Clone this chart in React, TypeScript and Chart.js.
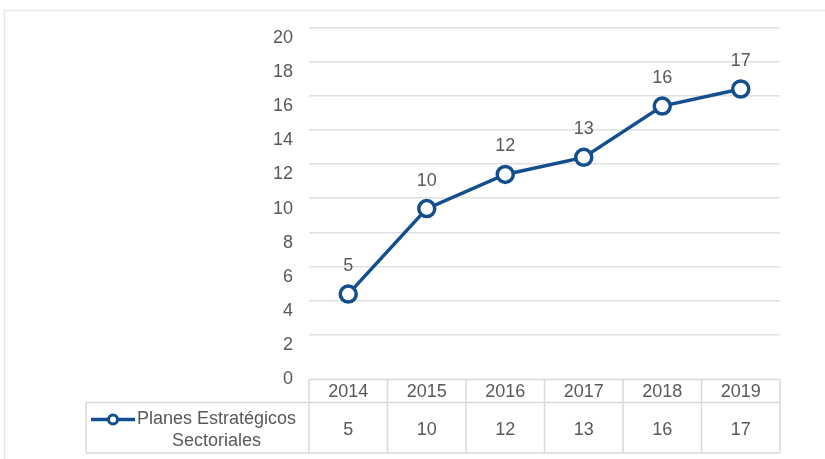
import React, { useEffect, useRef } from "react";
import { Chart, registerables } from "chart.js";

Chart.register(...registerables);

// ---- data ----
const categories = ["2014", "2015", "2016", "2017", "2018", "2019"];
const seriesLabelLines = ["Planes Estratégicos", "Sectoriales"];
const values = [5, 10, 12, 13, 16, 17];
const yMin = 0;
const yTop = 20;
const yStep = 2;

// ---- style ----
const LINE_COLOR = "#134f8f";
const TEXT_COLOR = "#595959";
const GRID_COLOR = "#e0e0e0";
const TABLE_COLOR = "#d9d9d9";
const FONT_FAMILY = "'Liberation Sans', Arial, sans-serif";
const FONT_SIZE = 18;
const GRID_SHIFT = 0.61; // gridlines sit slightly above their labels in the reference
const Y_MAX = 20.64;

const tablePlugin = {
  id: "dataTable",
  beforeDraw(chart: any) {
    const ctx = chart.ctx;
    ctx.save();
    ctx.strokeStyle = "#e6e6e6";
    ctx.lineWidth = 1.5;
    ctx.beginPath();
    ctx.moveTo(4.5, chart.height);
    ctx.lineTo(4.5, 10.5);
    ctx.lineTo(chart.width, 10.5);
    ctx.stroke();
    ctx.restore();
  },
  afterDatasetsDraw(chart: any) {
    const ctx = chart.ctx;
    const meta = chart.getDatasetMeta(0);
    ctx.save();
    ctx.fillStyle = TEXT_COLOR;
    ctx.font = `${FONT_SIZE}px ${FONT_FAMILY}`;
    ctx.textAlign = "center";
    ctx.textBaseline = "middle";
    meta.data.forEach((pt: any, i: number) => {
      ctx.fillText(String(values[i]), pt.x, pt.y - 28);
    });
    ctx.restore();
  },
  afterDraw(chart: any) {
    const ctx = chart.ctx;
    const { left, right, bottom } = chart.chartArea;
    const xs = chart.scales.x;
    const n = categories.length;
    const colW = (right - left) / n;
    const headH = 23;
    const rowH = 50.5;
    const legendLeft = 86;
    const top = bottom;
    const mid = top + headH;
    const end = mid + rowH;

    ctx.save();
    ctx.strokeStyle = TABLE_COLOR;
    ctx.lineWidth = 1.5;
    ctx.beginPath();
    ctx.moveTo(left, top);
    ctx.lineTo(right, top);
    ctx.moveTo(legendLeft, mid);
    ctx.lineTo(right, mid);
    ctx.moveTo(legendLeft, end);
    ctx.lineTo(right, end);
    ctx.moveTo(legendLeft, mid);
    ctx.lineTo(legendLeft, end);
    for (let i = 0; i <= n; i++) {
      const x = left + i * colW;
      ctx.moveTo(x, top);
      ctx.lineTo(x, end);
    }
    ctx.stroke();

    ctx.fillStyle = TEXT_COLOR;
    ctx.font = `${FONT_SIZE}px ${FONT_FAMILY}`;
    ctx.textAlign = "center";
    ctx.textBaseline = "middle";
    categories.forEach((c, i) => {
      const x = xs.getPixelForValue(i);
      ctx.fillText(c, x, top + headH / 2 + 1);
      ctx.fillText(String(values[i]), x, mid + rowH / 2 + 2);
    });

    // legend key
    const keyY = mid + 17;
    ctx.strokeStyle = LINE_COLOR;
    ctx.lineWidth = 3.5;
    ctx.beginPath();
    ctx.moveTo(91, keyY);
    ctx.lineTo(135, keyY);
    ctx.stroke();
    ctx.beginPath();
    ctx.arc(113, keyY, 4.5, 0, Math.PI * 2);
    ctx.fillStyle = "#ffffff";
    ctx.fill();
    ctx.lineWidth = 3;
    ctx.stroke();

    ctx.fillStyle = TEXT_COLOR;
    const w1 = ctx.measureText(seriesLabelLines[0]).width;
    const tx = 137;
    ctx.textAlign = "left";
    ctx.fillText(seriesLabelLines[0], tx, keyY);
    ctx.textAlign = "center";
    ctx.fillText(seriesLabelLines[1], tx + w1 / 2, keyY + 22);
    ctx.restore();
  },
};

export default function App() {
  const ref = useRef<HTMLCanvasElement | null>(null);

  useEffect(() => {
    if (!ref.current) return;
    const chart = new Chart(ref.current, {
      type: "line",
      data: {
        labels: categories,
        datasets: [
          {
            label: seriesLabelLines.join(" "),
            data: values,
            borderColor: LINE_COLOR,
            borderWidth: 3.5,
            pointRadius: 8,
            pointHoverRadius: 8,
            pointBorderWidth: 3.5,
            pointBackgroundColor: "#ffffff",
            pointBorderColor: LINE_COLOR,
            tension: 0,
            yAxisID: "y",
          },
        ],
      },
      options: {
        responsive: false,
        animation: false,
        layout: { padding: { left: 0, right: 45, top: 25, bottom: 79.5 } },
        plugins: {
          legend: { display: false },
          tooltip: { enabled: false },
        },
        scales: {
          x: {
            type: "category",
            display: false,
            offset: true,
          },
          y: {
            type: "linear",
            position: "left",
            min: yMin,
            max: Y_MAX,
            grid: { display: false, drawTicks: false },
            border: { display: false },
            ticks: {
              stepSize: yStep,
              includeBounds: false,
              padding: 16,
              color: TEXT_COLOR,
              font: { family: FONT_FAMILY, size: FONT_SIZE },
            },
            afterFit: (s: any) => {
              s.width = 309;
            },
          },
          yGrid: {
            type: "linear",
            position: "left",
            min: yMin - GRID_SHIFT,
            max: Y_MAX - GRID_SHIFT,
            grid: { color: GRID_COLOR, lineWidth: 1.5, drawTicks: false },
            border: { display: false },
            ticks: { display: false, stepSize: yStep, includeBounds: false },
            afterBuildTicks: (s: any) => {
              s.ticks = s.ticks.filter((t: any) => t.value > yMin && t.value <= yTop);
            },
            afterFit: (s: any) => {
              s.width = 0;
            },
          },
        },
      },
      plugins: [tablePlugin],
    });
    return () => chart.destroy();
  }, []);

  return (
    <div
      style={{
        position: "fixed",
        left: 0,
        top: 0,
        width: 825,
        height: 459,
        background: "#ffffff",
      }}
    >
      <canvas ref={ref} width={825} height={459} style={{ width: 825, height: 459 }} />
    </div>
  );
}
